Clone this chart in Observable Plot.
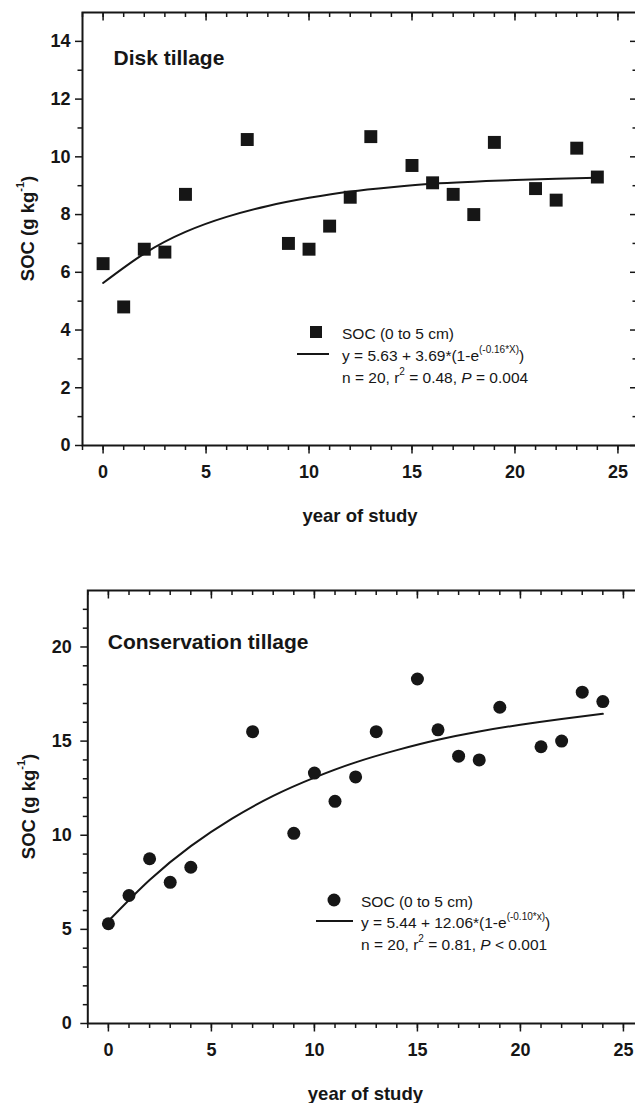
<!DOCTYPE html>
<html><head><meta charset="utf-8">
<script src="https://cdn.jsdelivr.net/npm/d3@7"></script>
<script src="https://cdn.jsdelivr.net/npm/@observablehq/plot@0.6"></script>
<style>
body{margin:0;background:#fff;overflow:hidden;width:635px;height:1103px;position:relative}
#top,#bot{position:absolute;left:0}
#top{top:0}
#bot{top:530px}
svg{max-width:none !important;overflow:visible}
</style></head><body><div id="top"></div><div id="bot"></div>
<script>
// ---- data ----
const years    = [0,1,2,3,4,7,9,10,11,12,13,15,16,17,18,19,21,22,23,24];
const socDisk  = [6.3,4.8,6.8,6.7,8.7,10.6,7.0,6.8,7.6,8.6,10.7,9.7,9.1,8.7,8.0,10.5,8.9,8.5,10.3,9.3];
const socCons  = [5.3,6.8,8.75,7.5,8.3,15.5,10.1,13.3,11.8,13.1,15.5,18.3,15.6,14.2,14.0,16.8,14.7,15.0,17.6,17.1];
const fitYears = [0,2,4,6,8,10,12,14,16,18,20,22,24];
const fitDisk  = [5.63,6.65,7.4,7.92,8.3,8.58,8.8,8.95,9.07,9.14,9.2,9.24,9.28];
const fitCons  = [5.44,7.62,9.42,10.88,12.09,13.06,13.87,14.52,15.07,15.51,15.87,16.18,16.45];
const xMajor   = [0,5,10,15,20,25];
const xMinor   = [-1,0,1,2,3,4,5,6,7,8,9,10,11,12,13,14,15,16,17,18,19,20,21,22,23,24,25];
const diskYMajor = [0,2,4,6,8,10,12,14];
const diskYMinor = [1,3,5,7,9,11,13];
const consYMajor = [0,5,10,15,20];
const consYMinor = [1,2,3,4,6,7,8,9,11,12,13,14,16,17,18,19,21,22];
const titleDisk = "Disk tillage";
const titleCons = "Conservation tillage";
const xTitle = "year of study";
const yTitle = ["SOC (g kg", "-1", ")"];
const legendLabel = "SOC (0 to 5 cm)";
const eqDisk  = ["y = 5.63 + 3.69*(1-e", "(-0.16*X)", ")"];
const eqCons  = ["y = 5.44 + 12.06*(1-e", "(-0.10*x)", ")"];
const statDisk = ["n = 20, r", "2", " = 0.48, ", "P", " = 0.004"];
const statCons = ["n = 20, r", "2", " = 0.81, ", "P", " < 0.001"];

const FONT = "'Liberation Sans', Arial, Helvetica, sans-serif";
const INK = "#161616";

function panel(o) {
  const innerW = o.width - o.marginLeft - o.marginRight;
  const innerH = o.height - o.marginTop - o.marginBottom;
  const pts = years.map((x, i) => ({x, y: o.values[i]}));
  const fit = fitYears.map((x, i) => ({x, y: o.fit[i]}));
  const plot = Plot.plot({
    width: o.width, height: o.height,
    marginLeft: o.marginLeft, marginRight: o.marginRight,
    marginTop: o.marginTop, marginBottom: o.marginBottom,
    style: {fontFamily: FONT, color: INK, background: "white", overflow: "visible"},
    x: {domain: [-1, 25.95]},
    y: {domain: o.yDomain},
    marks: [
      Plot.axisY(o.yMinor, {tickSize: 4.5, tickFormat: () => "", strokeWidth: 1.5, label: null}),
      Plot.axisY(o.yMajor, {tickSize: 7, tickPadding: o.yPad, fontSize: 18, fontWeight: "bold", strokeWidth: 1.5, label: null}),
      Plot.axisX(xMinor, {tickSize: 5, tickFormat: () => "", strokeWidth: 1.5, label: null}),
      Plot.axisX(xMajor, {tickSize: 8.5, tickPadding: 11, fontSize: 18, fontWeight: "bold", strokeWidth: 1.5, label: null}),
      Plot.tickX(xMinor, {x: d => d, insetBottom: innerH - 5, strokeWidth: 1.5, stroke: INK}),
      Plot.tickX(xMajor, {x: d => d, insetBottom: innerH - 8.5, strokeWidth: 1.5, stroke: INK}),
      Plot.tickY(o.yMinor, {y: d => d, insetLeft: innerW - 4.5, strokeWidth: 1.5, stroke: INK}),
      Plot.tickY(o.yMajor, {y: d => d, insetLeft: innerW - 7, strokeWidth: 1.5, stroke: INK}),
      Plot.frame({stroke: INK, strokeWidth: 2}),
      Plot.line(fit, {x: "x", y: "y", curve: "natural", stroke: INK, strokeWidth: 2}),
      Plot.dot(pts, {x: "x", y: "y", symbol: o.symbol, r: o.r, fill: INK, stroke: "none"}),
      Plot.text([o.title], {frameAnchor: "top-left", textAnchor: "start", lineAnchor: "middle",
        dx: o.titleDx, dy: o.titleDy, fontSize: 21, fontWeight: "bold", fill: INK}),
      Plot.text([xTitle], {frameAnchor: "bottom", lineAnchor: "middle", dy: 71,
        fontSize: 18.5, fontWeight: "bold", fill: INK})
    ]
  });
  const svg = d3.select(plot);
  const yt = svg.append("text")
    .attr("transform", `translate(${o.yTitleX},${o.marginTop + innerH / 2}) rotate(-90)`)
    .attr("text-anchor", "middle").attr("dominant-baseline", "central")
    .attr("font-family", FONT).attr("font-weight", "bold").attr("font-size", 18.5).attr("fill", INK);
  yt.append("tspan").text(yTitle[0]);
  yt.append("tspan").attr("dy", -7).attr("font-size", 11).text(yTitle[1]);
  yt.append("tspan").attr("dy", 7).text(yTitle[2]);
  const L = o.legend;
  const g = svg.append("g").attr("font-family", FONT).attr("font-size", 15.5).attr("fill", INK)
    .attr("text-anchor", "start");
  if (o.symbol === "square") {
    g.append("rect").attr("x", L.sx - 6).attr("y", L.sy - 6).attr("width", 12).attr("height", 12).attr("fill", INK);
  } else {
    g.append("circle").attr("cx", L.sx).attr("cy", L.sy).attr("r", 6.5).attr("fill", INK);
  }
  g.append("line").attr("x1", L.lx1).attr("x2", L.lx2).attr("y1", L.ly).attr("y2", L.ly)
    .attr("stroke", INK).attr("stroke-width", 2);
  g.append("text").attr("x", L.tx).attr("y", L.sy + 1).attr("dominant-baseline", "central").text(legendLabel);
  const e = g.append("text").attr("x", L.tx).attr("y", L.ly + 1).attr("dominant-baseline", "central");
  e.append("tspan").text(o.eq[0]);
  e.append("tspan").attr("dy", -6).attr("font-size", 10).text(o.eq[1]);
  e.append("tspan").attr("dy", 6).text(o.eq[2]);
  const s = g.append("text").attr("x", L.tx).attr("y", L.ly + 23).attr("dominant-baseline", "central");
  s.append("tspan").text(o.stat[0]);
  s.append("tspan").attr("dy", -6).attr("font-size", 10).text(o.stat[1]);
  s.append("tspan").attr("dy", 6).text(o.stat[2]);
  s.append("tspan").attr("font-style", "italic").text(o.stat[3]);
  s.append("tspan").text(o.stat[4]);
  document.getElementById(o.el).appendChild(plot);
}

panel({
  el: "top", width: 640, height: 530, marginLeft: 82, marginRight: 3, marginTop: 12, marginBottom: 85,
  values: socDisk, fit: fitDisk, yDomain: [0, 15], yMajor: diskYMajor, yMinor: diskYMinor, yPad: 5,
  symbol: "square", r: 7.3, title: titleDisk, titleDx: 31, titleDy: 46, yTitleX: 27,
  eq: eqDisk, stat: statDisk,
  legend: {sx: 316, sy: 332, tx: 342, lx1: 297, lx2: 329, ly: 354}
});
panel({
  el: "bot", width: 645, height: 573, marginLeft: 87.3, marginRight: 2.5, marginTop: 60, marginBottom: 80,
  values: socCons, fit: fitCons, yDomain: [0, 23], yMajor: consYMajor, yMinor: consYMinor, yPad: 9,
  symbol: "circle", r: 6.5, title: titleCons, titleDx: 20, titleDy: 52, yTitleX: 27.5,
  eq: eqCons, stat: statCons,
  legend: {sx: 334, sy: 370, tx: 361, lx1: 316, lx2: 353, ly: 391}
});
</script></body></html>
